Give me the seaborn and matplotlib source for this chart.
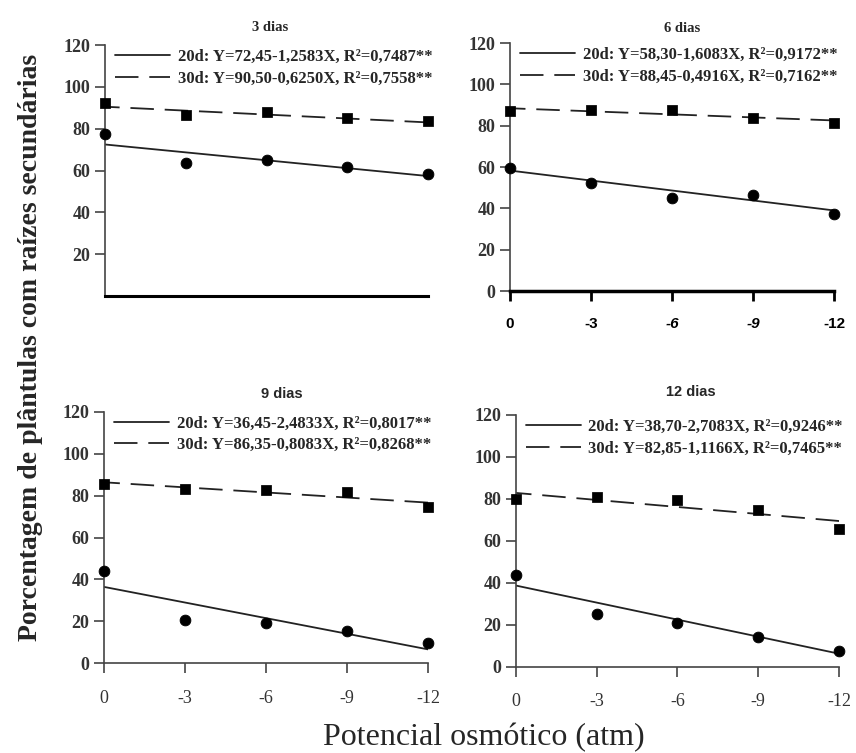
import numpy as np
import pandas as pd
import seaborn as sns
import matplotlib.pyplot as plt

# osmotic potential (atm) on the x axis
potencial = [0, -3, -6, -9, -12]
panels = ["3 dias", "6 dias", "9 dias", "12 dias"]

d3_20d = [77.5, 63.5, 65.0, 61.5, 58.5]
d3_30d = [92.5, 86.5, 88.0, 85.0, 83.5]
d6_20d = [59.5, 52.5, 45.0, 46.5, 37.5]
d6_30d = [87.0, 87.5, 87.5, 83.5, 81.5]
d9_20d = [44.0, 20.5, 19.0, 15.5, 9.5]
d9_30d = [85.5, 83.0, 82.5, 81.5, 74.5]
d12_20d = [43.5, 25.0, 21.0, 14.0, 7.5]
d12_30d = [80.0, 81.0, 79.5, 74.5, 65.5]

# regression Y = a - b*X (X = |potencial|)
a_20d = [72.45, 58.30, 36.45, 38.70]
b_20d = [1.2583, 1.6083, 2.4833, 2.7083]
r2_20d = [0.7487, 0.9172, 0.8017, 0.9246]
a_30d = [90.50, 88.45, 86.35, 82.85]
b_30d = [0.6250, 0.4916, 0.8083, 1.1166]
r2_30d = [0.7558, 0.7162, 0.8268, 0.7465]

pts_20d = [d3_20d, d6_20d, d9_20d, d12_20d]
pts_30d = [d3_30d, d6_30d, d9_30d, d12_30d]


def br(v, n):
    return f"{v:.{n}f}".replace(".", ",")


def eq_label(tag, a, b, r2):
    return f"{tag}: Y={br(a, 2)}-{br(b, 4)}X, R²={br(r2, 4)}**"


sns.set_theme(style="ticks")
plt.rcParams["font.family"] = ["Liberation Serif", "DejaVu Serif"]

fig = plt.figure(figsize=(8.56, 7.53), dpi=100)

boxes = [
    [0.1227, 0.6069, 0.3773, 0.3333],
    [0.5958, 0.6135, 0.3785, 0.3293],
    [0.1215, 0.1191, 0.3785, 0.3341],
    [0.6025, 0.1146, 0.3777, 0.3343],
]
title_x = [0.51, 0.53, 0.55, 0.54]
title_y = [1.07, 1.06, 1.07, 1.09]
title_font = ["Liberation Serif", "Liberation Serif", "Liberation Sans", "Liberation Sans"]

xx = np.linspace(0, -12, 50)

for i, name in enumerate(panels):
    ax = fig.add_axes(boxes[i])

    lab20 = eq_label("20d", a_20d[i], b_20d[i], r2_20d[i])
    lab30 = eq_label("30d", a_30d[i], b_30d[i], r2_30d[i])

    # fitted lines
    sns.lineplot(x=xx, y=a_20d[i] + b_20d[i] * xx, color="#222222", lw=1.3,
                 label=lab20, ax=ax)
    sns.lineplot(x=xx, y=a_30d[i] + b_30d[i] * xx, color="#222222", lw=1.3,
                 linestyle=(0, (13, 6)), label=lab30, ax=ax)

    # observed means
    sns.scatterplot(x=potencial, y=pts_20d[i], marker="o", s=60, color="black",
                    edgecolor="black", clip_on=False, zorder=5, ax=ax)
    sns.scatterplot(x=potencial, y=pts_30d[i], marker="s", s=45, color="black",
                    edgecolor="black", clip_on=False, zorder=5, ax=ax)

    ax.set_xlim(0, -12)
    ax.set_ylim(0, 120)
    ax.set_xticks(potencial)
    ax.set_xlabel("")
    ax.set_ylabel("")
    sns.despine(ax=ax)
    for s in ["left", "bottom"]:
        ax.spines[s].set_color("#444444")
        ax.spines[s].set_linewidth(1.2)
    ax.tick_params(axis="both", length=7, width=1.2, color="#444444")
    ax.tick_params(axis="y", labelsize=13)

    if i == 0:
        ax.set_yticks([20, 40, 60, 80, 100, 120])
        ax.spines["bottom"].set_color("black")
        ax.spines["bottom"].set_linewidth(2.2)
        ax.tick_params(axis="x", length=0, labelbottom=False)
    elif i == 1:
        ax.set_yticks([0, 20, 40, 60, 80, 100, 120])
        ax.spines["bottom"].set_color("black")
        ax.spines["bottom"].set_linewidth(2.5)
        ax.tick_params(axis="x", color="black", width=2, pad=12)
        ax.set_xticklabels([str(v) for v in potencial])
        for j, t in enumerate(ax.get_xticklabels()):
            t.set_fontfamily("Liberation Sans")
            t.set_fontweight("bold")
            t.set_fontsize(11)
            t.set_color("black")
            if j in (2, 3):
                t.set_fontstyle("italic")
    else:
        ax.set_yticks([0, 20, 40, 60, 80, 100, 120])
        ax.set_xticklabels([str(v) for v in potencial])
        ax.tick_params(axis="x", labelsize=13, pad=12, labelcolor="#333333")

    for t in ax.get_yticklabels():
        t.set_fontweight("bold")
        t.set_color("#333333")

    ax.text(title_x[i], title_y[i], name, transform=ax.transAxes, ha="center",
            va="center", fontsize=10.5, fontweight="bold", family=title_font[i])

    ax.legend(loc="upper left", bbox_to_anchor=(0.0, 1.025), frameon=False,
              handlelength=3.3, handletextpad=0.45, labelspacing=0.35,
              borderaxespad=0.2, prop={"size": 12, "weight": "bold"})

fig.text(0.036, 0.538, "Porcentagem de plântulas com raízes secundárias",
         rotation=90, ha="center", va="center", fontsize=20, fontweight="bold")
fig.text(0.565, 0.02, "Potencial osmótico (atm)", ha="center", va="center",
         fontsize=23)

fig.savefig("out.png", dpi=100)
